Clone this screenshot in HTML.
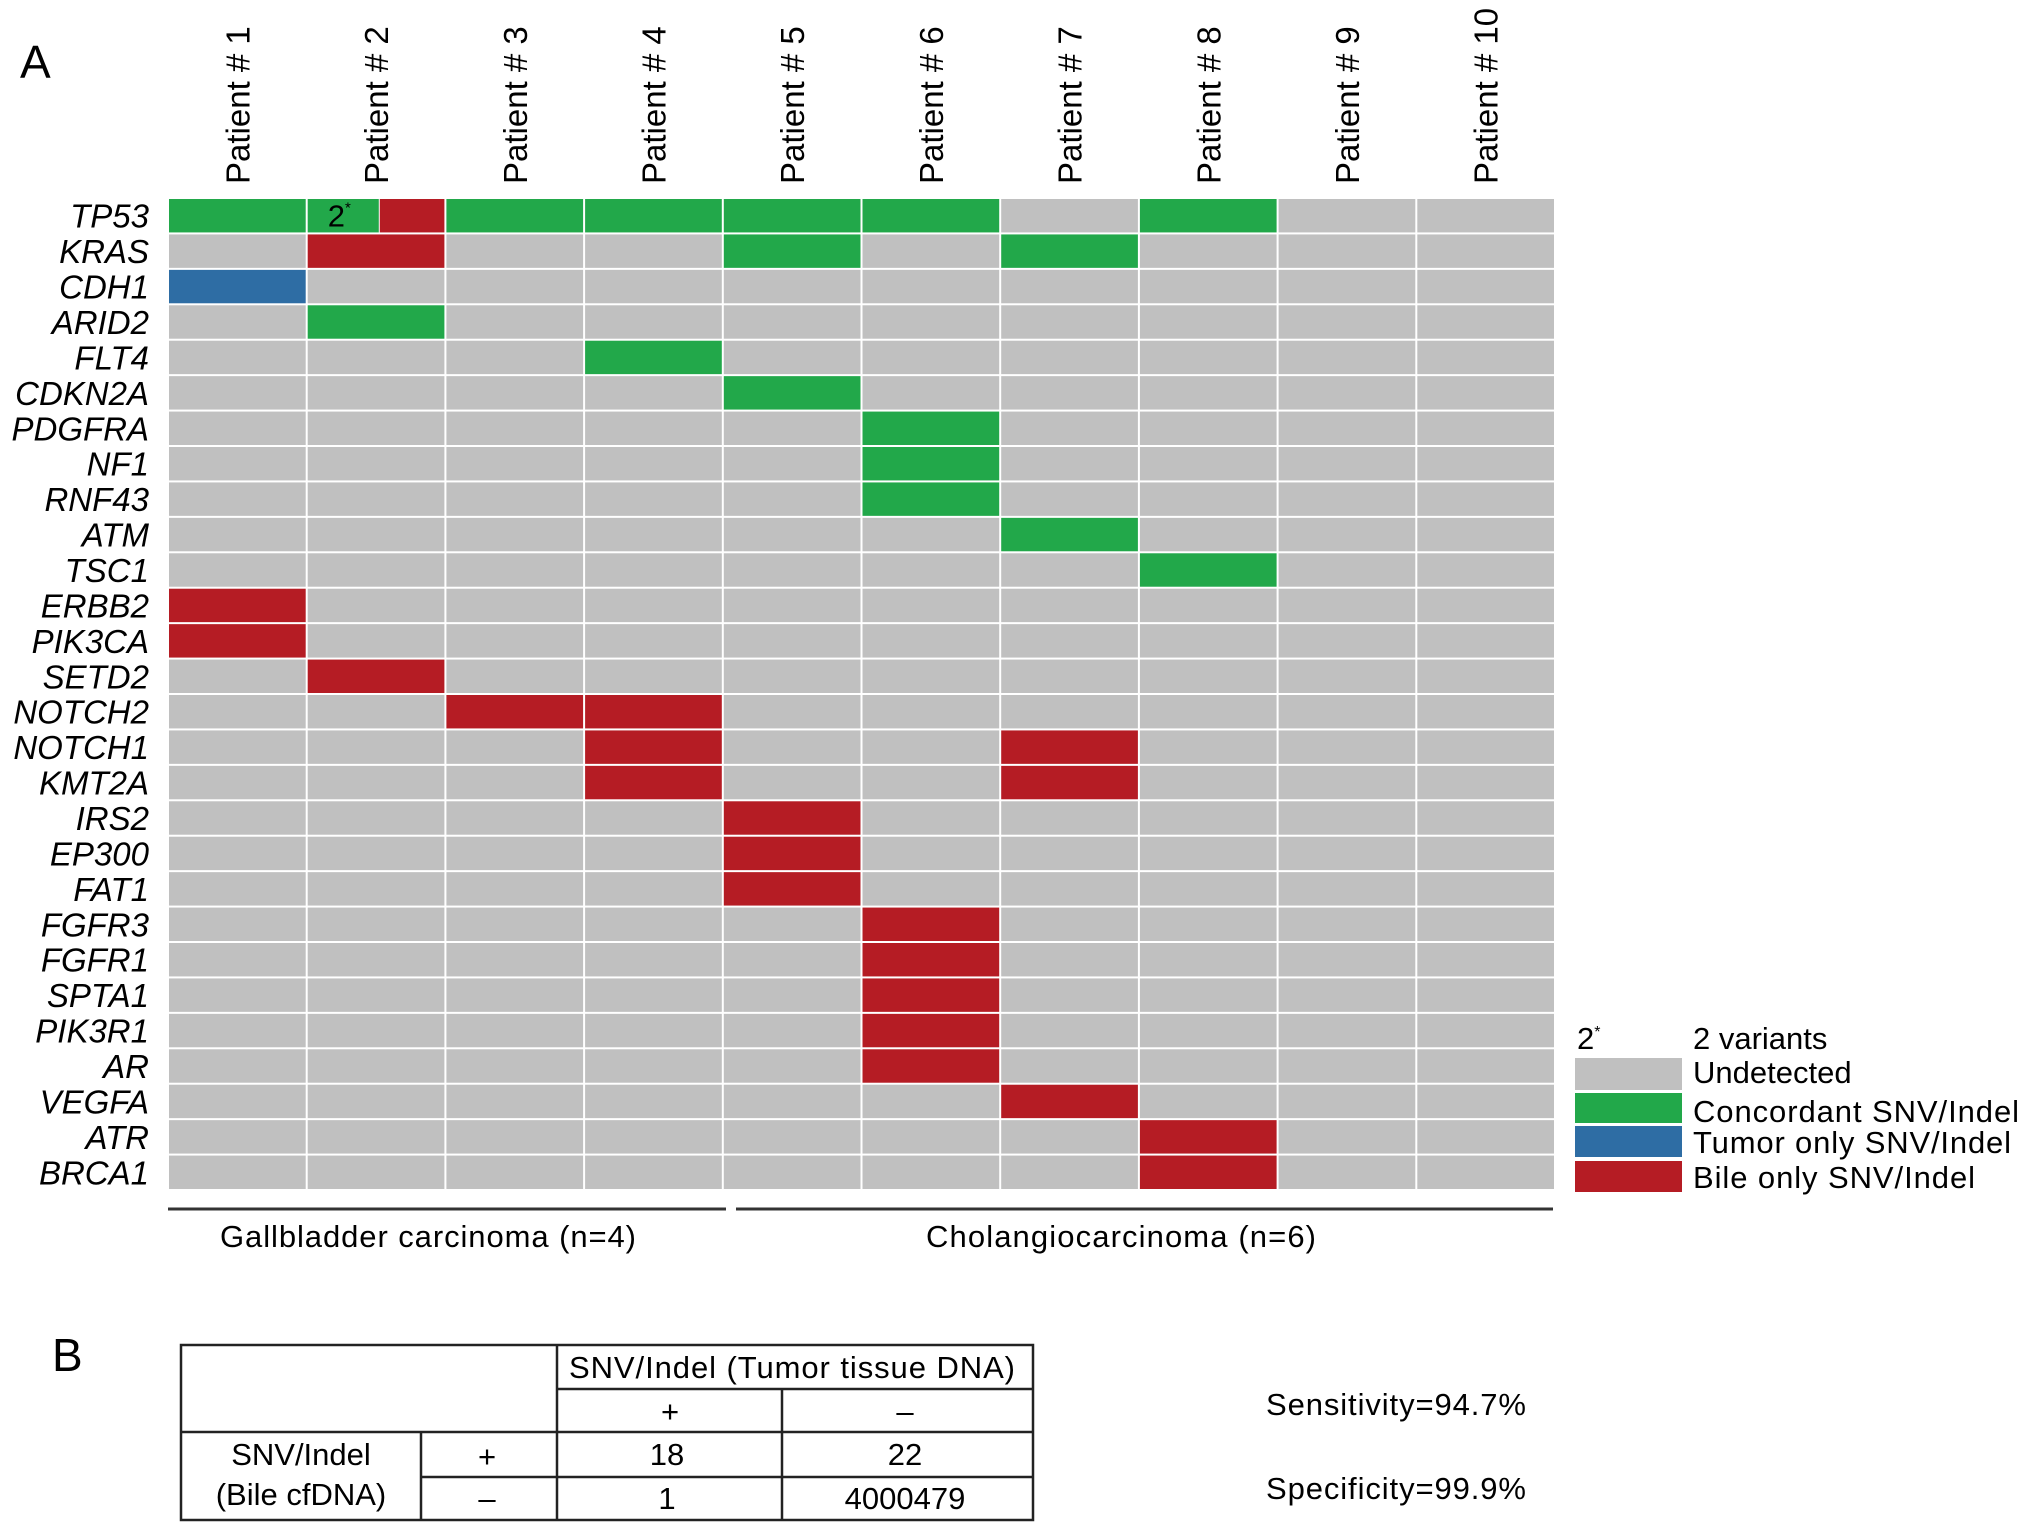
<!DOCTYPE html>
<html><head><meta charset="utf-8"><style>
body{margin:0;background:#fff}
svg{display:block;font-family:"Liberation Sans",sans-serif}
</style></head><body>
<svg id="fig" width="2032" height="1535" viewBox="0 0 2032 1535" xmlns="http://www.w3.org/2000/svg">
<text x="20" y="78" font-size="46">A</text>
<g id="grid"></g>
<g id="collabels"></g>
<g id="rowlabels"></g>
<g>
<text x="1577" y="1049" font-size="31">2<tspan font-size="16" dy="-12">*</tspan></text>
<text x="1693" y="1049" font-size="31">2 variants</text>
<rect x="1575" y="1058" width="107" height="32" fill="#c0c0c0"/>
<text x="1693" y="1083" font-size="31">Undetected</text>
<rect x="1575" y="1093" width="107" height="30" fill="#22a84a"/>
<text x="1693" y="1122" font-size="31" textLength="326">Concordant SNV/Indel</text>
<rect x="1575" y="1126" width="107" height="31" fill="#2e6da4"/>
<text x="1693" y="1153" font-size="31" textLength="318">Tumor only SNV/Indel</text>
<rect x="1575" y="1161" width="107" height="31" fill="#b51c24"/>
<text x="1693" y="1188" font-size="31" textLength="282">Bile only SNV/Indel</text>
</g>
<g>
<line x1="168" y1="1209" x2="726" y2="1209" stroke="#333" stroke-width="3"/>
<line x1="736" y1="1209" x2="1553" y2="1209" stroke="#333" stroke-width="3"/>
<text x="428" y="1247" font-size="31" text-anchor="middle" textLength="416">Gallbladder carcinoma (n=4)</text>
<text x="1121" y="1247" font-size="31" text-anchor="middle" textLength="390">Cholangiocarcinoma (n=6)</text>
</g>
<text x="52" y="1371" font-size="46">B</text>
<g stroke="#222" stroke-width="2.5" fill="none">
<rect x="181" y="1345" width="852" height="175"/>
<line x1="557" y1="1345" x2="557" y2="1520"/>
<line x1="782" y1="1389" x2="782" y2="1520"/>
<line x1="421" y1="1432" x2="421" y2="1520"/>
<line x1="557" y1="1389" x2="1033" y2="1389"/>
<line x1="181" y1="1432" x2="1033" y2="1432"/>
<line x1="421" y1="1477" x2="1033" y2="1477"/>
</g>
<g font-size="31" text-anchor="middle">
<text x="792" y="1378" textLength="446">SNV/Indel (Tumor tissue DNA)</text>
<text x="670" y="1422">+</text>
<text x="905" y="1422">–</text>
<text x="301" y="1465">SNV/Indel</text>
<text x="301" y="1505">(Bile cfDNA)</text>
<text x="487" y="1467">+</text>
<text x="487" y="1509">–</text>
<text x="667" y="1465">18</text>
<text x="905" y="1465">22</text>
<text x="667" y="1509">1</text>
<text x="905" y="1509">4000479</text>
</g>
<text x="1266" y="1415" font-size="31" textLength="260">Sensitivity=94.7%</text>
<text x="1266" y="1499" font-size="31" textLength="260">Specificity=99.9%</text>
</svg>
<script>
const genes=["TP53","KRAS","CDH1","ARID2","FLT4","CDKN2A","PDGFRA","NF1","RNF43","ATM","TSC1","ERBB2","PIK3CA","SETD2","NOTCH2","NOTCH1","KMT2A","IRS2","EP300","FAT1","FGFR3","FGFR1","SPTA1","PIK3R1","AR","VEGFA","ATR","BRCA1"];
const patients=["Patient # 1","Patient # 2","Patient # 3","Patient # 4","Patient # 5","Patient # 6","Patient # 7","Patient # 8","Patient # 9","Patient # 10"];
// 0 undetected, 1 concordant, 2 tumor only, 3 bile only, 4 = 2 variants (concordant + bile)
const status=[
[1,4,1,1,1,1,0,1,0,0],
[0,3,0,0,1,0,1,0,0,0],
[2,0,0,0,0,0,0,0,0,0],
[0,1,0,0,0,0,0,0,0,0],
[0,0,0,1,0,0,0,0,0,0],
[0,0,0,0,1,0,0,0,0,0],
[0,0,0,0,0,1,0,0,0,0],
[0,0,0,0,0,1,0,0,0,0],
[0,0,0,0,0,1,0,0,0,0],
[0,0,0,0,0,0,1,0,0,0],
[0,0,0,0,0,0,0,1,0,0],
[3,0,0,0,0,0,0,0,0,0],
[3,0,0,0,0,0,0,0,0,0],
[0,3,0,0,0,0,0,0,0,0],
[0,0,3,3,0,0,0,0,0,0],
[0,0,0,3,0,0,3,0,0,0],
[0,0,0,3,0,0,3,0,0,0],
[0,0,0,0,3,0,0,0,0,0],
[0,0,0,0,3,0,0,0,0,0],
[0,0,0,0,3,0,0,0,0,0],
[0,0,0,0,0,3,0,0,0,0],
[0,0,0,0,0,3,0,0,0,0],
[0,0,0,0,0,3,0,0,0,0],
[0,0,0,0,0,3,0,0,0,0],
[0,0,0,0,0,3,0,0,0,0],
[0,0,0,0,0,0,3,0,0,0],
[0,0,0,0,0,0,0,3,0,0],
[0,0,0,0,0,0,0,3,0,0]];
const colors=["#c0c0c0","#22a84a","#2e6da4","#b51c24"];
const NS="http://www.w3.org/2000/svg";
const X0=168,X1=1555,Y0=198,Y1=1190;
const cw=(X1-X0)/patients.length, rh=(Y1-Y0)/genes.length;
const xs=i=>X0+i*cw, ys=j=>Y0+j*rh;
const grid=document.getElementById('grid');
function rect(x,y,w,h,f,name){const r=document.createElementNS(NS,'rect');r.setAttribute('x',x);r.setAttribute('y',y);r.setAttribute('width',w);r.setAttribute('height',h);r.setAttribute('fill',f);


grid.appendChild(r);return r;}
genes.forEach((g,j)=>{patients.forEach((p,i)=>{
const s=status[j][i];const x=xs(i)+1,y=ys(j)+1,w=cw-2,h=rh-2;
const nm='cell-'+g.toLowerCase()+'-p'+(i+1);
if(s===4){rect(x,y,w*0.52,h,colors[1],nm+'-concordant');rect(x+w*0.52+1,y,w*0.48-1,h,colors[3],nm+'-bile');
const t=document.createElementNS(NS,'text');t.setAttribute('x',x+20);t.setAttribute('y',y+h-6);t.setAttribute('font-size','31');t.innerHTML='2<tspan font-size="15" dy="-14">*</tspan>';


grid.appendChild(t);}
else rect(x,y,w,h,colors[s],nm);
});
const t=document.createElementNS(NS,'text');t.setAttribute('x',149);t.setAttribute('y',ys(j)+rh/2+12);t.setAttribute('font-size','33');t.setAttribute('font-style','italic');t.setAttribute('text-anchor','end');t.textContent=g;


document.getElementById('rowlabels').appendChild(t);});
patients.forEach((p,i)=>{const t=document.createElementNS(NS,'text');const cx=xs(i)+cw/2+12;
t.setAttribute('transform','translate('+cx+',184) rotate(-90)');t.setAttribute('font-size','33');t.textContent=p;


document.getElementById('collabels').appendChild(t);});
</script>
</body></html>
